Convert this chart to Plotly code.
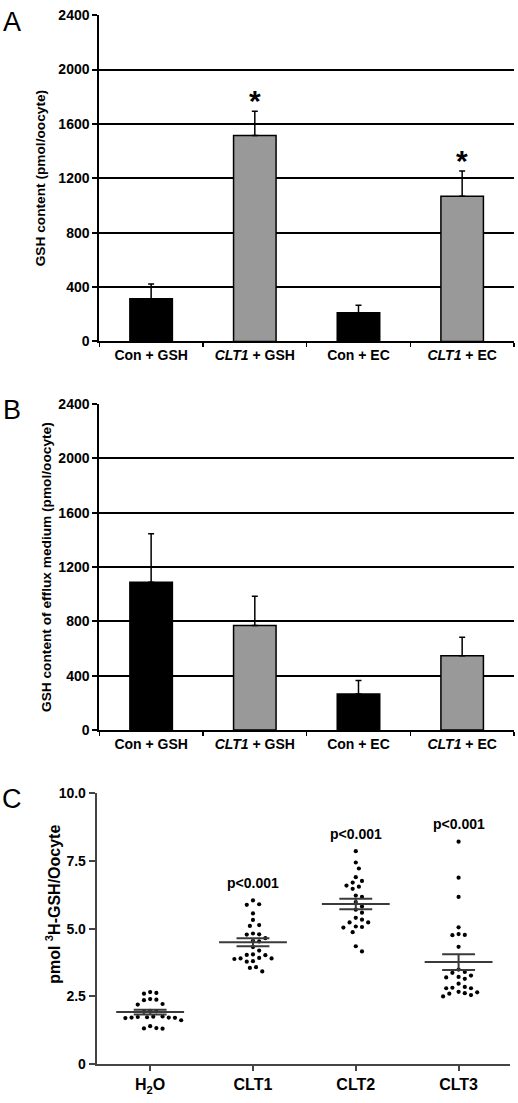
import numpy as np
import plotly.graph_objects as go

W, H = 518, 1103
FONT = "Arial, Liberation Sans, sans-serif"

# ---------------- data ----------------
categories_ab = ["Con + GSH", "<i>CLT1</i> + GSH", "Con + EC", "<i>CLT1</i> + EC"]
bar_colors = ["black", "#999999", "black", "#999999"]

a_mean = [314, 1515, 210, 1068]
a_err = [109, 179, 56, 186]
a_sig = ["", "*", "", "*"]

b_mean = [1088, 769, 266, 546]
b_err = [357, 215, 99, 136]

c_groups = ["H<sub>2</sub>O", "CLT1", "CLT2", "CLT3"]
h2o = [2.66, 2.63, 2.60, 2.40, 2.38, 2.36, 2.22, 2.20, 1.97, 1.95, 1.93,
       1.76, 1.75, 1.74, 1.73, 1.72, 1.72, 1.71, 1.70, 1.62,
       1.40, 1.33, 1.32, 1.31]
clt1 = [6.04, 5.90, 5.88, 5.56, 5.32, 5.13, 5.10, 4.82, 4.79, 4.78, 4.65,
        4.55, 4.53, 4.32, 4.19, 4.05, 4.03, 4.02, 3.92, 3.90, 3.90, 3.88,
        3.80, 3.78, 3.58, 3.55, 3.42]
clt2 = [7.86, 7.44, 7.22, 6.90, 6.76, 6.70, 6.59, 6.55, 6.47, 6.22, 6.17,
        5.98, 5.82, 5.70, 5.59, 5.40, 5.33, 5.23, 5.23, 5.08, 5.06, 5.04,
        4.87, 4.35, 4.16]
clt3 = [8.21, 6.88, 6.17, 5.05, 4.80, 4.77, 4.76, 4.33, 3.49, 3.40, 3.37,
        3.27, 3.22, 3.20, 3.15, 2.97, 2.85, 2.82, 2.80, 2.80, 2.67, 2.65,
        2.62, 2.60, 2.55, 2.50]
c_values = [h2o, clt1, clt2, clt3]
c_pvals = ["", "p<0.001", "p<0.001", "p<0.001"]

# ---------------- layout geometry (pixels) ----------------
def ydom(top_px, bot_px):
    return [1 - bot_px / H, 1 - top_px / H]

A_dom_y = ydom(7.3, 338.3)
B_dom_y = ydom(401.7, 732.7)
C_dom_y = ydom(796.7, 1071.7)
AB_dom_x = [99.3 / W, 514.0 / W]
C_dom_x = [96.7 / W, 510.0 / W]

fig = go.Figure()

# ---------------- panels A and B ----------------
for means, errs, xa, ya in [(a_mean, a_err, "x", "y"), (b_mean, b_err, "x2", "y2")]:
    fig.add_trace(go.Bar(
        x=categories_ab, y=means, xaxis=xa, yaxis=ya,
        width=0.41,
        marker=dict(color=bar_colors, line=dict(color="black", width=1.5)),
        error_y=dict(type="data", symmetric=False, array=errs,
                     arrayminus=[0] * len(errs), color="black",
                     thickness=1.5, width=3),
        showlegend=False, hoverinfo="skip"))

for cat, m, e, s in zip(categories_ab, a_mean, a_err, a_sig):
    if s:
        fig.add_annotation(x=cat, y=m + e + 90, xref="x", yref="y", text="<b>*</b>",
                           showarrow=False, yanchor="middle", yshift=-2,
                           font=dict(family=FONT, size=30, color="black"))

# ---------------- panel C ----------------
PX_X = 102.8
PX_Y = 27.5

def swarm(values, d=6.2):
    placed = []
    offs = [0.0] * len(values)
    cands = [0.0]
    for j in range(1, 40):
        cands += [j * d / 2, -j * d / 2]
    order = sorted(range(len(values)), key=lambda i: -values[i])
    for i in order:
        yv = values[i] * PX_Y
        for c in cands:
            if all((c - px) ** 2 + (yv - py) ** 2 >= d * d for px, py in placed):
                placed.append((c, yv))
                offs[i] = c / PX_X
                break
    return offs

for gi, vals in enumerate(c_values):
    offs = swarm(vals)
    fig.add_trace(go.Scatter(
        x=[gi + o for o in offs], y=vals, xaxis="x3", yaxis="y3",
        mode="markers", marker=dict(color="black", size=4.2, symbol="circle"),
        showlegend=False, hoverinfo="skip"))
    arr = np.array(vals)
    m = float(arr.mean())
    s = float(arr.std(ddof=1) / np.sqrt(len(arr)))
    lx = [gi - 0.33, gi + 0.33, None, gi - 0.16, gi + 0.16, None,
          gi - 0.16, gi + 0.16, None, gi, gi]
    ly = [m, m, None, m + s, m + s, None, m - s, m - s, None, m - s, m + s]
    fig.add_trace(go.Scatter(
        x=lx, y=ly, xaxis="x3", yaxis="y3", mode="lines",
        line=dict(color="#3a3a3a", width=2), showlegend=False, hoverinfo="skip"))
    if c_pvals[gi]:
        fig.add_annotation(x=gi, y=max(vals) + 0.65, xref="x3", yref="y3",
                           text=c_pvals[gi], showarrow=False, yanchor="middle",
                           font=dict(family=FONT, size=14, color="black", weight="bold"))

# ---------------- axes ----------------
tickfont_ab = dict(family=FONT, size=14, color="black", weight="bold")
xab = dict(type="category", categoryorder="array", categoryarray=categories_ab,
           showline=True, linecolor="black", linewidth=2,
           ticks="outside", tickson="boundaries", ticklen=4, tickwidth=1.5,
           tickcolor="black", tickfont=tickfont_ab, showgrid=False,
           domain=AB_dom_x, fixedrange=True)
yab = dict(range=[0, 2400], dtick=400, tick0=0, showline=True, linecolor="black",
           linewidth=2, ticks="outside", ticklen=5, tickwidth=2,
           tickcolor="black", tickfont=tickfont_ab, showgrid=True,
           gridcolor="black", gridwidth=2, zeroline=False, fixedrange=True)

fig.update_layout(
    width=W, height=H, margin=dict(l=0, r=0, t=0, b=0),
    paper_bgcolor="white", plot_bgcolor="white",
    font=dict(family=FONT, color="black"),
    bargap=0.5,
    xaxis=dict(xab, anchor="y"),
    yaxis=dict(yab, domain=A_dom_y, anchor="x"),
    xaxis2=dict(xab, anchor="y2"),
    yaxis2=dict(yab, domain=B_dom_y, anchor="x2"),
    xaxis3=dict(range=[-0.52, 3.5], tickvals=[0, 1, 2, 3], ticktext=c_groups,
                showline=True, linecolor="#444444", linewidth=2, ticks="outside",
                ticklen=5, tickwidth=2, tickcolor="#444444", showgrid=False,
                zeroline=False, domain=C_dom_x, anchor="y3",
                tickfont=dict(family=FONT, size=16, color="black", weight="bold"),
                fixedrange=True),
    yaxis3=dict(range=[0, 10], tickvals=[0, 2.5, 5, 7.5, 10],
                ticktext=["0", "2.5", "5.0", "7.5", "10.0"],
                showline=True, linecolor="#444444", linewidth=2, ticks="outside",
                ticklen=6, tickwidth=2, tickcolor="#444444", showgrid=False,
                zeroline=False, domain=C_dom_y, anchor="x3",
                tickfont=dict(family=FONT, size=14, color="black", weight="bold"),
                fixedrange=True),
)

# axis titles and panel letters
def ann_paper(text, xpx, ypx, size, angle=0, bold=True):
    fig.add_annotation(text=text, x=xpx / W, y=1 - ypx / H, xref="paper", yref="paper",
                       showarrow=False, textangle=angle, xanchor="center", yanchor="middle",
                       font=dict(family=FONT, size=size, color="black",
                                 weight="bold" if bold else "normal"))

ann_paper("GSH content (pmol/oocyte)", 40, 172.8, 13.7, -90)
ann_paper("GSH content of efflux medium (pmol/oocyte)", 47, 567.2, 13.7, -90)
ann_paper("pmol <sup>3</sup>H-GSH/Oocyte", 53, 910, 16, -90)
ann_paper("A", 12, 14, 27, bold=False)
ann_paper("B", 12, 408, 27, bold=False)
ann_paper("C", 12, 803, 27, bold=False)

fig.write_html("out.html", config={"displayModeBar": False, "staticPlot": True},
               post_script="document.body.style.margin='0';document.body.style.padding='0';")
